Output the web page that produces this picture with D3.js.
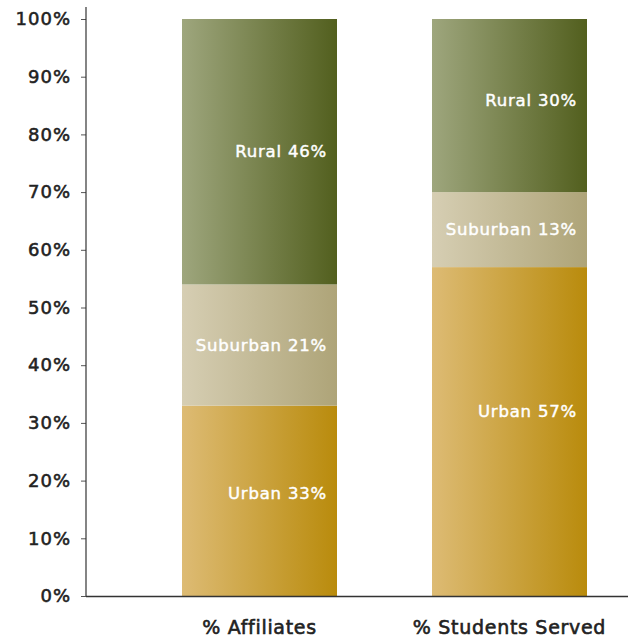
<!DOCTYPE html>
<html>
<head>
<meta charset="utf-8">
<script src="https://cdn.jsdelivr.net/npm/d3@7"></script>
<style>
  html, body { margin: 0; padding: 0; background: #fff; }
  svg { display: block; font-family: "DejaVu Sans", "Noto Sans", sans-serif; }
</style>
</head>
<body>
<svg id="chart" width="628" height="639"></svg>
<script>
// Share of affiliates and of students served, by locale
const categories = ["% Affiliates", "% Students Served"];
const seriesNames = ["Urban", "Suburban", "Rural"];
const urbanValues = [33, 57];
const suburbanValues = [21, 13];
const ruralValues = [46, 30];
const yTicks = [0, 10, 20, 30, 40, 50, 60, 70, 80, 90, 100];

const valuesBySeries = { Urban: urbanValues, Suburban: suburbanValues, Rural: ruralValues };
const table = categories.map((c, i) => {
  const row = { category: c };
  seriesNames.forEach(s => { row[s] = valuesBySeries[s][i]; });
  return row;
});

// left → right gradient stops for each segment
const gradients = {
  Urban: ["#ddbb74", "#b98b0c"],
  Suburban: ["#d6ceb3", "#aea478"],
  Rural: ["#9ea67d", "#525f1e"]
};
// small vertical nudges applied to individual segment labels
const labelNudge = { "Urban|% Affiliates": -7, "Urban|% Students Served": -20, "Rural|% Students Served": -5 };

const svg = d3.select("#chart");
const margin = { left: 86, top: 19, bottom: 43 };
const width = 628, height = 639;

// bars 155px wide on a 250px pitch
const xBand = d3.scaleBand().domain(categories).range([134.5, 634.5]).paddingInner(0.38).paddingOuter(0.19);
const y = d3.scaleLinear().domain([0, 100]).range([height - margin.bottom, margin.top]);

const defs = svg.append("defs");
Object.entries(gradients).forEach(([name, [c0, c1]]) => {
  const g = defs.append("linearGradient").attr("id", "grad-" + name)
    .attr("x1", "0%").attr("x2", "100%").attr("y1", "0%").attr("y2", "0%");
  g.append("stop").attr("offset", "0%").attr("stop-color", c0);
  g.append("stop").attr("offset", "100%").attr("stop-color", c1);
});

const layers = d3.stack().keys(seriesNames)(table);

const barX = d => xBand(d.data.category);
const bw = xBand.bandwidth();

svg.append("g").selectAll("g")
  .data(layers).join("g")
  .attr("fill", d => `url(#grad-${d.key})`)
  .selectAll("rect")
  .data(d => d)
  .join("rect")
  .attr("x", barX)
  .attr("width", bw)
  .attr("y", d => y(d[1]))
  .attr("height", d => y(d[0]) - y(d[1]));

// segment labels (a thin matching stroke gives a medium weight)
layers.forEach(layer => {
  svg.append("g").selectAll("text")
    .data(layer)
    .join("text")
    .attr("x", d => barX(d) + bw - 10)
    .attr("y", d => (y(d[0]) + y(d[1])) / 2 + (labelNudge[layer.key + "|" + d.data.category] || 0))
    .attr("text-anchor", "end")
    .attr("dominant-baseline", "central")
    .attr("fill", "#ffffff")
    .attr("stroke", "#ffffff")
    .attr("stroke-width", 0.45)
    .attr("font-size", 16.5)
    .attr("letter-spacing", 0.8)
    .text(d => `${layer.key} ${d.data[layer.key]}%`);
});

// y axis
const yAxis = svg.append("g")
  .attr("transform", `translate(${margin.left},0)`)
  .call(d3.axisLeft(y).tickValues(yTicks).tickFormat(d => d + "%").tickSize(5).tickPadding(10).tickSizeOuter(0));
yAxis.select(".domain").remove();
yAxis.append("line")
  .attr("x1", 0).attr("x2", 0).attr("y1", 7).attr("y2", y(0))
  .attr("stroke", "#333").attr("stroke-width", 1.2);
yAxis.selectAll(".tick line").attr("stroke", "#555");
yAxis.selectAll(".tick text")
  .attr("fill", "#222")
  .attr("stroke", "#222")
  .attr("stroke-width", 0.55)
  .attr("font-size", 18)
  .attr("letter-spacing", 1)
  .attr("font-family", "'DejaVu Sans', sans-serif");

// x axis baseline
svg.append("line")
  .attr("x1", margin.left).attr("x2", width)
  .attr("y1", y(0) + 0.5).attr("y2", y(0) + 0.5)
  .attr("stroke", "#333").attr("stroke-width", 1.4);

// category labels
svg.append("g").selectAll("text")
  .data(categories)
  .join("text")
  .attr("x", d => xBand(d) + bw / 2)
  .attr("y", 634)
  .attr("text-anchor", "middle")
  .attr("fill", "#222")
  .attr("stroke", "#222")
  .attr("stroke-width", 0.6)
  .attr("font-size", 19)
  .attr("letter-spacing", 0.7)
  .text(d => d);
</script>
</body>
</html>
